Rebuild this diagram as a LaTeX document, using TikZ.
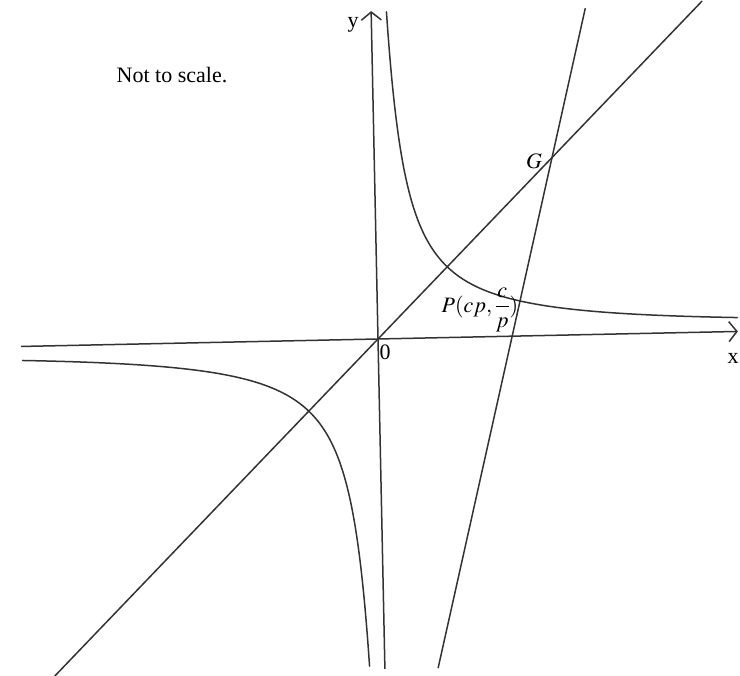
\documentclass[tikz,border=0pt]{standalone}
\usepackage{mathptmx}
\usepackage{fontspec}
\setmainfont{Liberation Serif}
\usetikzlibrary{arrows.meta, positioning}

\begin{document}
\begin{tikzpicture}[
    x=1pt, y=1pt,
    curve/.style={line width=1.5pt, black!80, line cap=round},
    axis/.style={line width=1.5pt, black!80, -{Straight Barb[length=8pt, width=20pt]}},
    lbl/.style={font=\fontsize{22}{26}\selectfont, inner sep=1pt},
]
\useasboundingbox (0,0) rectangle (740,676);

% Axes, curve and lines (the scan is turned a little)
\begin{scope}[shift={(378,337)}, rotate=1.2]
    \coordinate (xleft)  at (-357,0);
    \coordinate (xright) at (360,0);
    \coordinate (ybot)   at (0,-330);
    \coordinate (ytop)   at (0,328);
    \coordinate (O)      at (0,0);
    \coordinate (Gpt)    at (177.8,177.8);
    \coordinate (Ppt)    at (142.8,35.0);
    \coordinate (diagbot) at (-330,-330);
    \coordinate (diagtop) at (331,331);
    \coordinate (normbot) at (53.3,-330);
    \coordinate (normtop) at (214.1,326);

    \draw[axis] (xleft) -- (xright);
    \draw[axis] (ybot) -- (ytop);

    % hyperbola xy = c^2
    \draw[curve] plot[domain=-1.531:1.627, samples=120, smooth]
        ({70.71*exp(\x)}, {70.71*exp(-\x)});
    \draw[curve] plot[domain=-1.531:1.617, samples=120, smooth]
        ({-70.71*exp(\x)}, {-70.71*exp(-\x)});

    % y = x and the normal at P
    \draw[curve] (diagbot) -- (O) -- (Gpt) -- (diagtop);
    \draw[curve] (normbot) -- (Ppt) -- (Gpt) -- (normtop);
\end{scope}

% Labels
\node[lbl] (notscale) at (172,601) {Not to scale.};
\node[lbl] (ylabel)   at (353,651) {y};
\node[lbl] (xlabel)   at (733,318) {x};
\node[lbl] (zero)     at (385,324) {0};
\node[lbl] (glabel)   at (534,515) {$G$};
\node[lbl] (plabel)   at (480,366) {$P(cp,\displaystyle\frac{c}{p})$};

\end{tikzpicture}
\end{document}
